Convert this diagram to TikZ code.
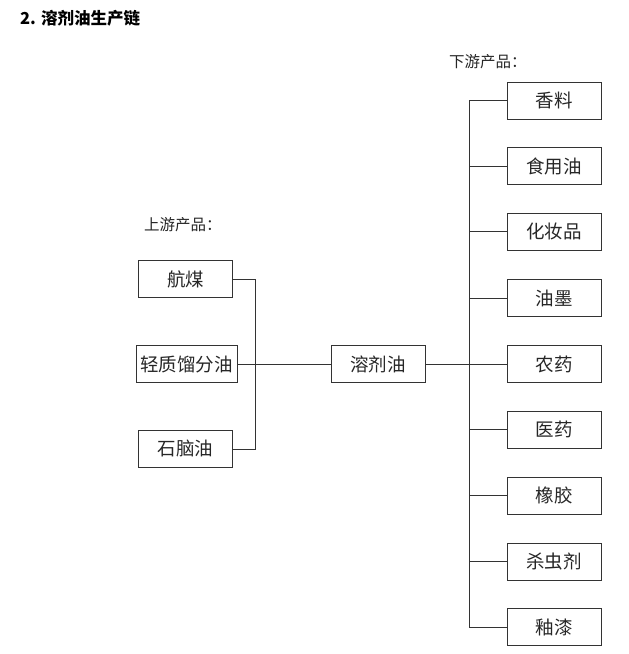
\documentclass[tikz,border=0pt]{standalone}
\usepackage{fontspec}
\newfontfamily\cjk{Noto Sans CJK SC}
\usepackage{tikz}

\tikzset{
  prod/.style={draw=black!80, line width=0.8pt, minimum width=94pt, minimum height=37pt,
    inner sep=0pt, font=\cjk\fontsize{18.5}{18.5}\selectfont, text=black!85},
  lbl/.style={anchor=west, inner sep=0pt, font=\cjk\fontsize{15.5}{15.5}\selectfont, text=black!85},
  link/.style={draw=black!80, line width=0.8pt}
}

\begin{document}
\begin{tikzpicture}[x=1pt, y=-1pt]
\useasboundingbox (0,0) rectangle (629,654);

\node (title) at (20, 18) [anchor=west, inner sep=0pt, font=\cjk\bfseries\fontsize{16.5}{16.5}\selectfont] {2. 溶剂油生产链};

% upstream
\node (up) at (144, 225) [lbl] {上游产品：};
\node (hm) at (185.5, 279) [prod] {航煤};
\node (qz) at (186.5, 364) [prod, minimum width=101pt] {轻质馏分油};
\node (sny) at (185.5, 449) [prod] {石脑油};

\node (rjy) at (378, 364) [prod] {溶剂油};

% downstream
\node (down) at (449, 62) [lbl] {下游产品：};
\node (xl) at (554, 100.5) [prod] {香料};
\node (sy) at (554, 166) [prod] {食用油};
\node (hz) at (554, 231.5) [prod] {化妆品};
\node (ym) at (554, 298) [prod] {油墨};
\node (ny) at (554, 364) [prod] {农药};
\node (yy) at (554, 429.5) [prod] {医药};
\node (xj) at (554, 495.5) [prod] {橡胶};
\node (scj) at (554, 561.5) [prod] {杀虫剂};
\node (yq) at (554, 627) [prod] {釉漆};

\coordinate (jl) at (255, 364);
\coordinate (jr) at (469, 364);

\draw[link] (hm.east) -| (jl);
\draw[link] (sny.east) -| (jl);
\draw[link] (qz.east) -- (rjy.west);
\draw[link] (rjy.east) -- (ny.west);

\draw[link] (jr |- xl) -- (jr |- yq);
\foreach \p in {xl, sy, hz, ym, yy, xj, scj, yq}
  \draw[link] (jr |- \p) -- (\p.west);
\end{tikzpicture}
\end{document}
